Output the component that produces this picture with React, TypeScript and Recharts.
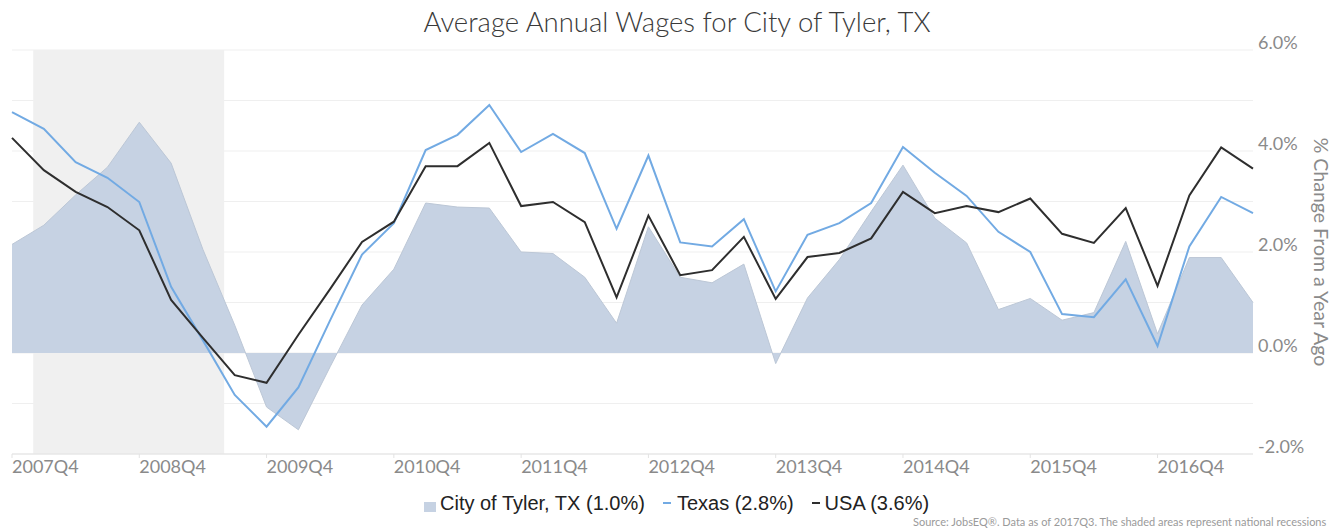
import React from 'react';
import { ComposedChart, Area, Line, XAxis, YAxis, CartesianGrid, ReferenceArea, Label } from 'recharts';

const quarters = [
  '2007Q4',
  '2008Q1', '2008Q2', '2008Q3', '2008Q4',
  '2009Q1', '2009Q2', '2009Q3', '2009Q4',
  '2010Q1', '2010Q2', '2010Q3', '2010Q4',
  '2011Q1', '2011Q2', '2011Q3', '2011Q4',
  '2012Q1', '2012Q2', '2012Q3', '2012Q4',
  '2013Q1', '2013Q2', '2013Q3', '2013Q4',
  '2014Q1', '2014Q2', '2014Q3', '2014Q4',
  '2015Q1', '2015Q2', '2015Q3', '2015Q4',
  '2016Q1', '2016Q2', '2016Q3', '2016Q4',
  '2017Q1', '2017Q2', '2017Q3',
];

const tyler = [2.15, 2.53, 3.13, 3.68, 4.57, 3.76, 2.05, 0.55, -1.07, -1.52, -0.27, 0.95, 1.66, 2.97, 2.89, 2.87, 2.0, 1.97, 1.5, 0.59, 2.5, 1.5, 1.39, 1.76, -0.21, 1.09, 1.85, 2.8, 3.72, 2.67, 2.18, 0.86, 1.08, 0.65, 0.8, 2.21, 0.38, 1.89, 1.89, 1.0];
const texas = [4.77, 4.44, 3.78, 3.47, 2.99, 1.31, 0.25, -0.83, -1.46, -0.68, 0.65, 1.95, 2.57, 4.02, 4.32, 4.91, 3.98, 4.34, 3.96, 2.46, 3.91, 2.19, 2.11, 2.65, 1.22, 2.34, 2.57, 2.97, 4.08, 3.57, 3.11, 2.4, 2.0, 0.77, 0.71, 1.46, 0.14, 2.11, 3.09, 2.77];
const usa = [4.26, 3.62, 3.19, 2.89, 2.43, 1.05, 0.3, -0.44, -0.59, 0.36, 1.27, 2.2, 2.6, 3.7, 3.7, 4.16, 2.91, 2.99, 2.59, 1.1, 2.72, 1.54, 1.64, 2.3, 1.07, 1.9, 1.98, 2.27, 3.19, 2.77, 2.91, 2.79, 3.06, 2.36, 2.18, 2.87, 1.33, 3.12, 4.07, 3.65];

const xTickLabels = ['2007Q4', '2008Q4', '2009Q4', '2010Q4', '2011Q4', '2012Q4', '2013Q4', '2014Q4', '2015Q4', '2016Q4'];
const yTicks = [-2, -1, 0, 1, 2, 3, 4, 5, 6];
const yLabelTicks = [-2, 0, 2, 4, 6];

// national recession (NBER), as months
const recessionStart = { year: 2007, month: 12 };
const recessionEnd = { year: 2009, month: 6 };

const legendLabels = ['City of Tyler, TX (1.0%)', 'Texas (2.8%)', 'USA (3.6%)'];

const TITLE = 'Average Annual Wages for City of Tyler, TX';
const Y_TITLE = '% Change From a Year Ago';
const SOURCE = 'Source: JobsEQ\u00AE. Data as of 2017Q3. The shaded areas represent national recessions';

// first quarter point is 2007Q4 (starting October 2007)
const monthToIndex = (m: { year: number; month: number }) => ((m.year - 2007) * 12 + (m.month - 10)) / 3;

const data = quarters.map((q, i) => ({ i, q, tyler: tyler[i], texas: texas[i], usa: usa[i] }));
const xTicks = xTickLabels.map((l) => quarters.indexOf(l));

const COLORS = { tyler: '#c6d2e3', tylerStroke: '#bcc7d6', texas: '#72aae3', usa: '#2e2e2e', recession: '#f0f0f0' };

const XTick = (props: any) => {
  const { x, y, payload } = props;
  return (
    <text x={x} y={y} dy={13} textAnchor="start" fill="#8a8a8a" fontSize={18} fontFamily="Lato">
      {quarters[payload.value]}
    </text>
  );
};

const YTick = (props: any) => {
  const { x, y, payload } = props;
  if (!yLabelTicks.includes(payload.value)) return <g />;
  return (
    <text x={x} y={y - 7} dy="0.35em" textAnchor="start" fill="#8a8a8a" fontSize={18} fontFamily="Lato">
      {`${payload.value.toFixed(1)}%`}
    </text>
  );
};

const YTitle = (props: any) => {
  const vb = props.viewBox || { x: 0, y: 0, width: 0, height: 0 };
  const cx = vb.x + 68;
  const cy = vb.y + vb.height / 2;
  return (
    <text
      transform={`translate(${cx}, ${cy}) rotate(90)`}
      textAnchor="middle"
      dominantBaseline="central"
      fill="#8a8a8a"
      fontSize={19.5}
      fontFamily="Lato"
    >
      {Y_TITLE}
    </text>
  );
};

export default function App() {
  return (
    <div style={{ position: 'relative', width: 1343, height: 529, marginLeft: -8, marginTop: -8, overflow: 'hidden', background: '#fff' }}>
      <div
        style={{
          position: 'absolute',
          top: 5,
          left: 0,
          width: 1354,
          textAlign: 'center',
          fontFamily: 'Lato',
          fontWeight: 300,
          fontSize: 27.5,
          lineHeight: '34px',
          color: '#3a3a3a',
        }}
      >
        {TITLE}
      </div>
      <ComposedChart width={1343} height={529} data={data} margin={{ top: 50, right: 0, bottom: 45, left: 12 }}>
        <CartesianGrid horizontal vertical={false} stroke="#efefef" />
        <ReferenceArea
          x1={monthToIndex(recessionStart)}
          x2={monthToIndex(recessionEnd)}
          fill={COLORS.recession}
          fillOpacity={1}
          stroke="none"
        />
        <XAxis
          dataKey="i"
          type="number"
          domain={[0, quarters.length - 1]}
          ticks={xTicks}
          tick={<XTick />}
          tickSize={4}
          tickMargin={2}
          interval={0}
          height={30}
          axisLine={{ stroke: '#e3e3e3' }}
          tickLine={{ stroke: '#e3e3e3' }}
        />
        <YAxis
          orientation="right"
          type="number"
          domain={[-2, 6]}
          ticks={yTicks}
          interval={0}
          tick={<YTick />}
          tickSize={0}
          tickMargin={5}
          axisLine={false}
          tickLine={false}
          width={90}
          label={<Label content={<YTitle />} />}
        />
        <Area
          type="linear"
          dataKey="tyler"
          baseValue={0}
          fill={COLORS.tyler}
          fillOpacity={1}
          stroke={COLORS.tylerStroke}
          strokeWidth={1}
          isAnimationActive={false}
          dot={false}
          activeDot={false}
        />
        <Line type="linear" dataKey="texas" stroke={COLORS.texas} strokeWidth={2} dot={false} activeDot={false} isAnimationActive={false} />
        <Line type="linear" dataKey="usa" stroke={COLORS.usa} strokeWidth={2} dot={false} activeDot={false} isAnimationActive={false} />
      </ComposedChart>
      <div
        style={{
          position: 'absolute',
          top: 490,
          left: 424,
          display: 'flex',
          alignItems: 'center',
          fontFamily: '"Liberation Sans", Arial, sans-serif',
          fontSize: 20,
          color: '#222',
          whiteSpace: 'nowrap',
          lineHeight: '26px',
        }}
      >
        <span style={{ display: 'inline-block', width: 12, height: 10, background: COLORS.tyler, marginRight: 4, marginTop: 8 }} />
        <span>{legendLabels[0]}</span>
        <span style={{ display: 'inline-block', width: 8, height: 2, background: COLORS.texas, marginLeft: 18, marginRight: 6 }} />
        <span>{legendLabels[1]}</span>
        <span style={{ display: 'inline-block', width: 8, height: 2, background: COLORS.usa, marginLeft: 18, marginRight: 5 }} />
        <span>{legendLabels[2]}</span>
      </div>
      <div
        style={{
          position: 'absolute',
          top: 514,
          left: 913,
          fontFamily: 'Lato',
          fontSize: 11,
          color: '#9a9a9a',
          whiteSpace: 'nowrap',
          lineHeight: '15px',
        }}
      >
        {SOURCE}
      </div>
    </div>
  );
}
